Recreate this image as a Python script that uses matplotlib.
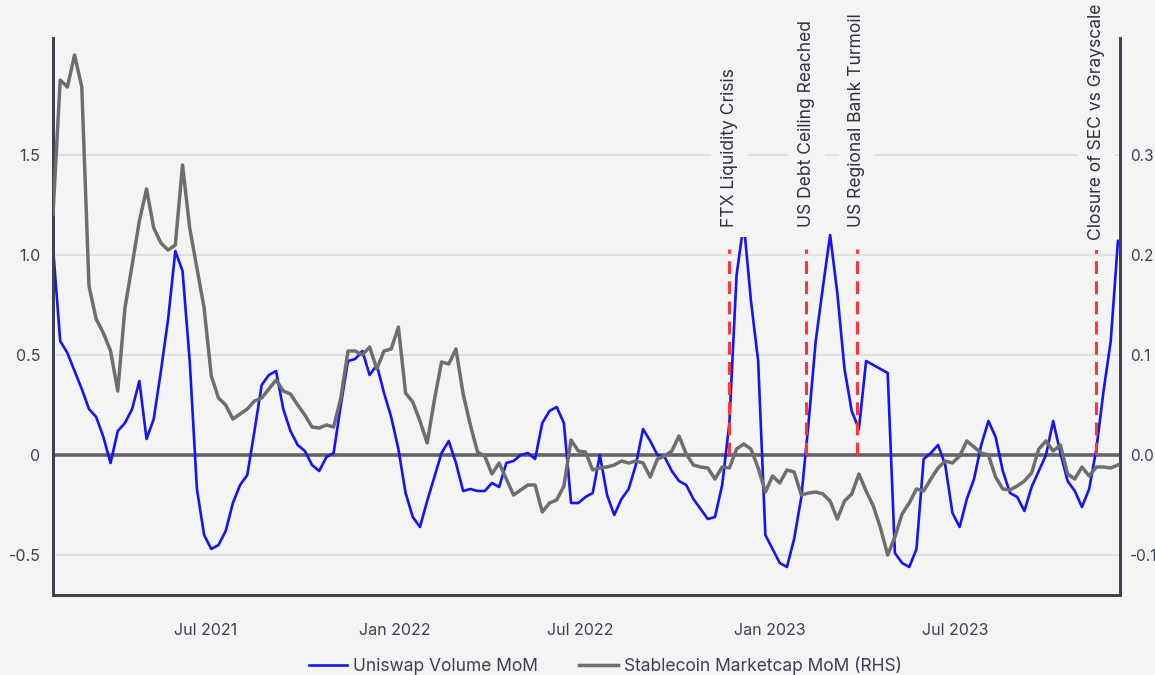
import matplotlib
matplotlib.use("Agg")
import matplotlib.pyplot as plt
import pandas as pd

# ---- Datos (semanales) -------------------------------------------------------
START_DATE = "2021-02-03"
N_WEEKS = 149

uniswap_mom = [
    1.04, 0.57, 0.51, 0.42, 0.33, 0.23, 0.19, 0.09, -0.04, 0.12,
    0.16, 0.23, 0.37, 0.08, 0.18, 0.42, 0.68, 1.02, 0.92, 0.47,
    -0.17, -0.40, -0.47, -0.45, -0.38, -0.24, -0.15, -0.10, 0.12, 0.35,
    0.40, 0.42, 0.23, 0.12, 0.05, 0.02, -0.05, -0.08, -0.01, 0.01,
    0.25, 0.47, 0.48, 0.52, 0.40, 0.45, 0.31, 0.19, 0.03, -0.19,
    -0.31, -0.36, -0.23, -0.11, 0.01, 0.07, -0.04, -0.18, -0.17, -0.18,
    -0.18, -0.14, -0.16, -0.04, -0.03, 0.00, 0.01, -0.02, 0.16, 0.22,
    0.24, 0.16, -0.24, -0.24, -0.21, -0.19, 0.00, -0.20, -0.30, -0.22,
    -0.17, -0.05, 0.13, 0.07, 0.00, -0.01, -0.08, -0.13, -0.15, -0.22,
    -0.27, -0.32, -0.31, -0.15, 0.16, 0.90, 1.16, 0.77, 0.47, -0.40,
    -0.47, -0.54, -0.56, -0.42, -0.21, 0.16, 0.57, 0.84, 1.10, 0.81,
    0.43, 0.22, 0.13, 0.47, 0.45, 0.43, 0.41, -0.49, -0.54, -0.56,
    -0.47, -0.02, 0.01, 0.05, -0.05, -0.29, -0.36, -0.22, -0.12, 0.05,
    0.17, 0.09, -0.08, -0.19, -0.21, -0.28, -0.16, -0.08, 0.00, 0.17,
    0.01, -0.13, -0.18, -0.26, -0.17, 0.03, 0.32, 0.57, 1.07,
]

stablecoin_mom = [
    0.241, 0.375, 0.368, 0.400, 0.368, 0.169, 0.136, 0.122, 0.104, 0.064,
    0.147, 0.190, 0.234, 0.266, 0.227, 0.212, 0.205, 0.210, 0.290, 0.227,
    0.187, 0.147, 0.079, 0.057, 0.050, 0.036, 0.041, 0.046, 0.054, 0.057,
    0.066, 0.075, 0.064, 0.061, 0.050, 0.040, 0.028, 0.027, 0.030, 0.028,
    0.057, 0.104, 0.104, 0.100, 0.108, 0.086, 0.104, 0.106, 0.128, 0.062,
    0.053, 0.034, 0.012, 0.055, 0.093, 0.091, 0.106, 0.061, 0.030, 0.003,
    -0.001, -0.019, -0.008, -0.024, -0.040, -0.035, -0.030, -0.030, -0.057, -0.048,
    -0.045, -0.031, 0.015, 0.004, 0.003, -0.015, -0.013, -0.012, -0.010, -0.006,
    -0.008, -0.006, -0.008, -0.022, -0.004, -0.001, 0.004, 0.019, 0.001, -0.010,
    -0.012, -0.013, -0.024, -0.012, -0.013, 0.006, 0.011, 0.006, -0.013, -0.037,
    -0.021, -0.028, -0.015, -0.017, -0.040, -0.038, -0.037, -0.039, -0.046, -0.064,
    -0.046, -0.039, -0.019, -0.036, -0.051, -0.073, -0.100, -0.082, -0.059, -0.048,
    -0.034, -0.036, -0.024, -0.013, -0.006, -0.008, -0.001, 0.014, 0.008, 0.002,
    0.000, -0.022, -0.034, -0.035, -0.031, -0.026, -0.018, 0.006, 0.014, 0.004,
    0.010, -0.019, -0.024, -0.012, -0.021, -0.012, -0.012, -0.013, -0.010,
]

event_dates = ["2022-11-23", "2023-02-06", "2023-03-27", "2023-11-15"]
event_labels = ["FTX Liquidity Crisis", "US Debt Ceiling Reached",
                "US Regional Bank Turmoil", "Closure of SEC vs Grayscale"]
event_text_y = [1.14, 1.14, 1.14, 1.075]   # base del texto (eje izq.)

left_ticks = [-0.5, 0, 0.5, 1.0, 1.5]
left_ticklabels = ["-0.5", "0", "0.5", "1.0", "1.5"]
right_ticks = [-0.1, 0.0, 0.1, 0.2, 0.3]
right_ticklabels = ["-0.1", "0.0", "0.1", "0.2", "0.3"]
x_ticks = ["2021-07-01", "2022-01-01", "2022-07-01", "2023-01-01", "2023-07-01"]
x_ticklabels = ["Jul 2021", "Jan 2022", "Jul 2022", "Jan 2023", "Jul 2023"]

# ---- Estilo ------------------------------------------------------------------
BG = "#f4f4f4"
BLUE = "#1414f5"
GRAY = "#6e6e6e"
RED = "#ff3535"
INK = "#3d4050"
RATIO = 5.0   # eje der. = eje izq. / 5

plt.rcParams["font.family"] = ["Inter", "DejaVu Sans"]

dates = pd.date_range(START_DATE, periods=N_WEEKS, freq="7D")

fig = plt.figure(figsize=(11.55, 6.75), dpi=100, facecolor=BG)
ax = fig.add_axes([53 / 1155, 80 / 675, 1067 / 1155, 557 / 675])
ax.set_facecolor(BG)
ax2 = ax.twinx()

ylo, yhi = -0.70, 2.085
ax.set_ylim(ylo, yhi)
ax2.set_ylim(ylo / RATIO, yhi / RATIO)
ax.set_xlim(pd.Timestamp("2021-02-03"), pd.Timestamp("2023-12-08"))

# grid + linea cero
for t in left_ticks:
    if t != 0:
        ax.axhline(t, color="#dadada", lw=1.1, zorder=0)
ax.axhline(0, color="#646464", lw=2.6, zorder=1)

ln1, = ax.plot(dates, uniswap_mom, color=BLUE, lw=1.9, zorder=3,
               label="Uniswap Volume MoM")
ln2, = ax2.plot(dates, stablecoin_mom, color=GRAY, lw=2.5, zorder=3,
                label="Stablecoin Marketcap MoM (RHS)")

for d, lab, ty in zip(event_dates, event_labels, event_text_y):
    d = pd.Timestamp(d)
    ax2.vlines(d, 0, 1.03 / RATIO, color=RED, lw=2.2,
               linestyles=(0, (4.2, 2.4)), zorder=4)
    ax2.text(d, ty / RATIO, lab, rotation=90, ha="center", va="bottom",
             fontsize=12.6, color="#2f3240", zorder=5,
             bbox=dict(fc=BG, ec="none", pad=7))

# ejes
ax.set_yticks(left_ticks)
ax.set_yticklabels(left_ticklabels)
ax2.set_yticks(right_ticks)
ax2.set_yticklabels(right_ticklabels)
ax.set_xticks([pd.Timestamp(t) for t in x_ticks])
ax.set_xticklabels(x_ticklabels)

for a in (ax, ax2):
    a.tick_params(length=0, labelsize=11.5, colors=INK)
    a.spines["top"].set_visible(False)
    for s in ("left", "right", "bottom"):
        a.spines[s].set_color(INK)
        a.spines[s].set_linewidth(2)
ax.tick_params(axis="x", pad=20)
ax.tick_params(axis="y", pad=9)
ax2.tick_params(axis="y", pad=7, labelsize=11)

fig.legend(handles=[ln1, ln2], loc="center", ncol=2, frameon=False,
           bbox_to_anchor=(605 / 1155, 9 / 675), fontsize=12.5,
           handlelength=2.2, columnspacing=2.4, handletextpad=0.35,
           labelcolor=INK)

fig.savefig("out.png", dpi=100, facecolor=BG)
